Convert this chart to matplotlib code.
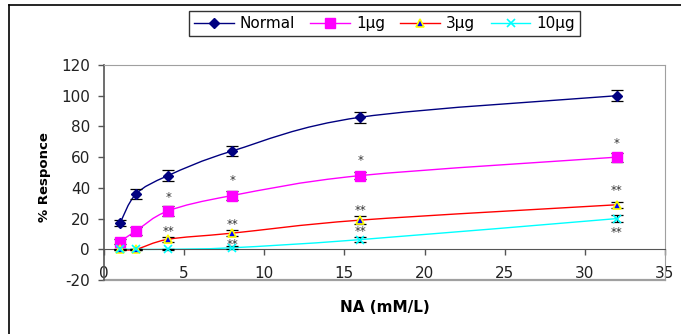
import numpy as np
import matplotlib
matplotlib.use("Agg")
import matplotlib.pyplot as plt
from matplotlib.path import Path
from matplotlib.patches import PathPatch
from matplotlib.lines import Line2D

plt.rcParams['font.family'] = ['DejaVu Sans']
plt.rcParams['axes.unicode_minus'] = False

# concentrations of NA (mM/L)
conc = [1, 2, 4, 8, 16, 32]

normal = [17, 36, 48, 64, 86, 100]
ug1 = [5, 12, 25, 35, 48, 60]
ug3 = [0, 0, 6.5, 10.5, 19, 29]
ug10 = [0, 0, 0, 1, 6.3, 20]

normal_err = [2, 3, 3.5, 3.5, 3.5, 3.5]
ug1_err = [1.5, 2.5, 3, 3, 2.5, 3]
ug3_err = [0.5, 0.5, 1.5, 2, 2.5, 2]
ug10_err = [0.5, 0.5, 0.5, 1, 1.5, 2.5]

labels = ["Normal", "1\u03bcg", "3\u03bcg", "10\u03bcg"]

# significance marks
star_x = [4, 8, 16, 32, 4, 8, 16, 32, 8, 16, 32]
star_y = [34, 45, 57.5, 69, 11.3, 16, 25, 38, 3.3, 11.3, 10.8]
star_txt = ["*", "*", "*", "*", "**", "**", "**", "**", "**", "**", "**"]


def smooth_path(x, y):
    # excel-like smoothed line as bezier segments through the points
    pts = np.column_stack([x, y]).astype(float)
    n = len(pts)
    verts = [pts[0]]
    codes = [Path.MOVETO]
    for i in range(n - 1):
        p0 = pts[i - 1] if i > 0 else pts[i]
        p1 = pts[i]
        p2 = pts[i + 1]
        p3 = pts[i + 2] if i + 2 < n else pts[i + 1]
        c1 = p1 + (p2 - p0) / 6.0
        c2 = p2 - (p3 - p1) / 6.0
        verts += [c1, c2, p2]
        codes += [Path.CURVE4] * 3
    return Path(verts, codes)


fig = plt.figure(figsize=(6.81, 3.34), dpi=100)
ax = fig.add_axes([104 / 681, 54 / 334, 561 / 681, 215 / 334])

series = [
    (normal, normal_err, "#000080", dict(marker="D", ms=5, mfc="#000080", mec="#000080")),
    (ug1, ug1_err, "#FF00FF", dict(marker="s", ms=6.5, mfc="#FF00FF", mec="#FF00FF")),
    (ug3, ug3_err, "#FF0000", dict(marker="^", ms=6, mfc="#0000FF", mec="#FFFF00", mew=1.2)),
    (ug10, ug10_err, "#00FFFF", dict(marker="x", ms=5.5, mfc="#00FFFF", mec="#00FFFF", mew=1.2)),
]

handles = []
for (vals, err, col, mk), lbl in zip(series, labels):
    ax.add_patch(PathPatch(smooth_path(conc, vals), fill=False, edgecolor=col, lw=1, zorder=2))
    ax.errorbar(conc, vals, yerr=err, fmt="none", ecolor="black", elinewidth=0.9,
                capsize=4, capthick=0.9, zorder=3)
    ax.plot(conc, vals, linestyle="none", zorder=4, **mk)
    handles.append(Line2D([], [], color=col, lw=1, **mk))

for x, y, t in zip(star_x, star_y, star_txt):
    ax.text(x, y, t, ha="center", va="center", fontsize=8.5, color="#333333")

ax.set_xlim(0, 35)
ax.set_ylim(-20, 120)
ax.set_xticks(np.arange(0, 36, 5))
ax.set_yticks(np.arange(-20, 121, 20))

ax.spines["bottom"].set_position(("data", 0))
ax.spines["bottom"].set_color("#555555")
ax.spines["left"].set_color("#555555")
ax.spines["left"].set_linewidth(1.2)
for s in ["top", "right"]:
    ax.spines[s].set_color("#a0a0a0")
ax.axhline(-20, color="#a0a0a0", lw=1.6, clip_on=False)

ax.tick_params(axis="both", direction="out", length=4, width=1, color="#555555",
               labelsize=11, labelcolor="#222222")
ax.tick_params(axis="x", pad=8)
ax.tick_params(axis="y", pad=6)

ax.set_xlabel("NA (mM/L)", fontsize=11, fontweight="bold", va="center")
ax.xaxis.set_label_coords(0.5, -0.126)
ax.set_ylabel("% Responce", fontsize=9.5, fontweight="bold")
ax.yaxis.set_label_coords(-0.095, 0.48)

leg = fig.legend(handles, labels, loc="center", bbox_to_anchor=(384.5 / 681, 1 - 23.5 / 334),
                 ncol=4, fontsize=11, frameon=True, fancybox=False, handlelength=2.6,
                 handletextpad=0.4, columnspacing=1.0, borderpad=0.3)
leg.get_frame().set_edgecolor("black")
leg.get_frame().set_linewidth(1)

# outer chart border (cropped)
fig.add_artist(Line2D([9 / 681, 9 / 681], [-0.1, 1 - 5 / 334], color="black", lw=1.2,
                      transform=fig.transFigure))
fig.add_artist(Line2D([9 / 681, 1.1], [1 - 5 / 334, 1 - 5 / 334], color="black", lw=1.2,
                      transform=fig.transFigure))

fig.savefig("out.png", dpi=100)
